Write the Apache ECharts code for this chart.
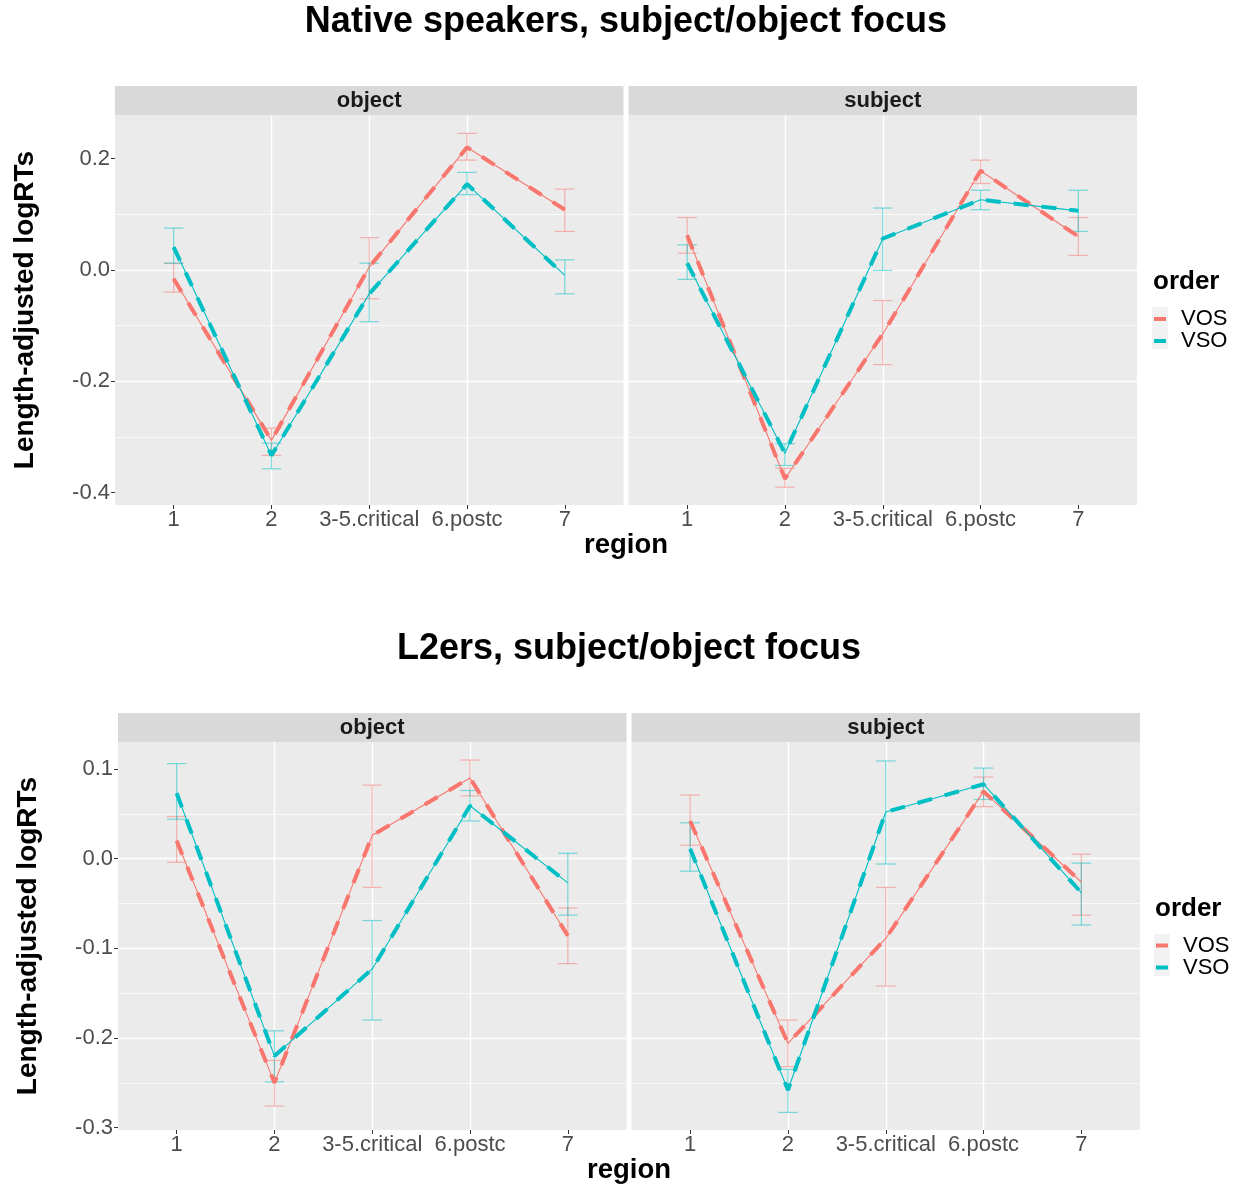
<!DOCTYPE html>
<html>
<head>
<meta charset="utf-8">
<script src="https://cdn.jsdelivr.net/npm/echarts@6/dist/echarts.min.js"></script>
<style>
  body { margin: 0; background: #ffffff; }
  #main { width: 1239px; height: 1185px; }
</style>
</head>
<body>
<div id="main"></div>
<script>
// region categories on the x axis
var regions = ['1', '2', '3-5.critical', '6.postc', '7'];
var regionTicks = [1, 2, 3, 4, 5];

// y tick labels
var nativeTicks = [-0.4, -0.2, 0.0, 0.2];
var l2Ticks = [-0.3, -0.2, -0.1, 0.0, 0.1];

// Native speakers, object focus
var nativeObjVOS = [-0.016, -0.306, 0.005, 0.220, 0.108];
var nativeObjVOSLow = [-0.040, -0.333, -0.052, 0.197, 0.069];
var nativeObjVOSHigh = [0.012, -0.284, 0.058, 0.245, 0.145];
var nativeObjVSO = [0.041, -0.333, -0.043, 0.154, -0.010];
var nativeObjVSOLow = [0.012, -0.357, -0.093, 0.135, -0.043];
var nativeObjVSOHigh = [0.075, -0.311, 0.012, 0.175, 0.018];

// Native speakers, subject focus
var nativeSubjVOS = [0.062, -0.375, -0.115, 0.178, 0.060];
var nativeSubjVOSLow = [0.030, -0.390, -0.170, 0.155, 0.026];
var nativeSubjVOSHigh = [0.094, -0.356, -0.055, 0.197, 0.094];
var nativeSubjVSO = [0.012, -0.329, 0.056, 0.126, 0.106];
var nativeSubjVSOLow = [-0.017, -0.351, -0.001, 0.108, 0.069];
var nativeSubjVSOHigh = [0.045, -0.312, 0.111, 0.143, 0.143];

// L2ers, object focus
var l2ObjVOS = [0.020, -0.250, 0.026, 0.090, -0.086];
var l2ObjVOSLow = [-0.004, -0.276, -0.032, 0.070, -0.117];
var l2ObjVOSHigh = [0.047, -0.225, 0.082, 0.110, -0.055];
var l2ObjVSO = [0.073, -0.220, -0.123, 0.059, -0.027];
var l2ObjVSOLow = [0.044, -0.249, -0.180, 0.042, -0.063];
var l2ObjVSOHigh = [0.106, -0.192, -0.069, 0.076, 0.006];

// L2ers, subject focus
var l2SubjVOS = [0.042, -0.206, -0.089, 0.075, -0.026];
var l2SubjVOSLow = [0.015, -0.232, -0.142, 0.058, -0.063];
var l2SubjVOSHigh = [0.071, -0.180, -0.032, 0.091, 0.005];
var l2SubjVSO = [0.011, -0.258, 0.052, 0.083, -0.038];
var l2SubjVSOLow = [-0.014, -0.283, -0.006, 0.066, -0.074];
var l2SubjVSOHigh = [0.040, -0.235, 0.109, 0.101, -0.005];

var FONT = '"Liberation Sans", Arial, sans-serif';
var COL = { VOS: '#F8766D', VSO: '#00BFC4' };
var COL_ERR = { VOS: 'rgba(248,118,109,0.5)', VSO: 'rgba(0,191,196,0.5)' };

var panels = [
  { grid: { left: 115, top: 115, width: 508.5, height: 390 }, yMin: -0.422, yMax: 0.278, step: 0.2, ticks: nativeTicks, showY: true,
    VOS: [nativeObjVOS, nativeObjVOSLow, nativeObjVOSHigh], VSO: [nativeObjVSO, nativeObjVSOLow, nativeObjVSOHigh] },
  { grid: { left: 628.5, top: 115, width: 508.5, height: 390 }, yMin: -0.422, yMax: 0.278, step: 0.2, ticks: nativeTicks, showY: false,
    VOS: [nativeSubjVOS, nativeSubjVOSLow, nativeSubjVOSHigh], VSO: [nativeSubjVSO, nativeSubjVSOLow, nativeSubjVSOHigh] },
  { grid: { left: 118, top: 742, width: 508.5, height: 388 }, yMin: -0.3026, yMax: 0.1301, step: 0.1, ticks: l2Ticks, showY: true,
    VOS: [l2ObjVOS, l2ObjVOSLow, l2ObjVOSHigh], VSO: [l2ObjVSO, l2ObjVSOLow, l2ObjVSOHigh] },
  { grid: { left: 631.5, top: 742, width: 508.5, height: 388 }, yMin: -0.3026, yMax: 0.1301, step: 0.1, ticks: l2Ticks, showY: false,
    VOS: [l2SubjVOS, l2SubjVOSLow, l2SubjVOSHigh], VSO: [l2SubjVSO, l2SubjVSOLow, l2SubjVSOHigh] }
];

function errorBar(params, api) {
  var x = api.value(0);
  var lo = api.coord([x, api.value(1)]);
  var hi = api.coord([x, api.value(2)]);
  var half = api.size([0.1, 0])[0];
  var st = { stroke: api.visual('color'), lineWidth: 1.2 };
  return {
    type: 'group',
    children: [
      { type: 'line', shape: { x1: lo[0], y1: lo[1], x2: hi[0], y2: hi[1] }, style: st },
      { type: 'line', shape: { x1: lo[0] - half, y1: lo[1], x2: lo[0] + half, y2: lo[1] }, style: st },
      { type: 'line', shape: { x1: hi[0] - half, y1: hi[1], x2: hi[0] + half, y2: hi[1] }, style: st }
    ]
  };
}

var grids = [], xAxes = [], yAxes = [], series = [];

panels.forEach(function (p, i) {
  grids.push(Object.assign({ show: true, backgroundColor: '#EBEBEB', borderWidth: 0 }, p.grid));
  xAxes.push({
    type: 'value', gridIndex: i, min: 0.4, max: 5.6, minInterval: 1, maxInterval: 1,
    axisLine: { show: false, onZero: false },
    axisTick: { show: true, length: 4, customValues: regionTicks, lineStyle: { color: '#333333', width: 1 } },
    axisLabel: {
      customValues: regionTicks, color: '#4D4D4D', fontSize: 22, fontFamily: FONT, margin: 4,
      formatter: function (v) { return regions[Math.round(v) - 1] || ''; }
    },
    splitLine: { show: true, showMinLine: false, showMaxLine: false, lineStyle: { color: '#FFFFFF', width: 1.4 } }
  });
  yAxes.push({
    type: 'value', gridIndex: i, min: p.yMin, max: p.yMax, minInterval: p.step, maxInterval: p.step,
    axisLine: { show: false, onZero: false },
    axisTick: { show: p.showY, length: 4, customValues: p.ticks, lineStyle: { color: '#333333', width: 1 } },
    axisLabel: {
      show: p.showY, customValues: p.ticks, color: '#4D4D4D', fontSize: 22, fontFamily: FONT, margin: 5,
      formatter: function (v) { return v.toFixed(1); }
    },
    splitLine: { show: true, showMinLine: false, showMaxLine: false, lineStyle: { color: '#FFFFFF', width: 1.4 } },
    minorTick: { show: false, splitNumber: 2 },
    minorSplitLine: { show: true, lineStyle: { color: '#FFFFFF', width: 0.7 } },
    name: p.showY ? 'Length-adjusted logRTs' : '',
    nameLocation: 'middle', nameRotate: 90, nameGap: 76,
    nameTextStyle: { fontSize: 28, fontWeight: 'bold', color: '#000000', fontFamily: FONT }
  });

  ['VOS', 'VSO'].forEach(function (g) {
    var arr = p[g];
    series.push({
      name: g, type: 'custom', xAxisIndex: i, yAxisIndex: i, renderItem: errorBar,
      itemStyle: { color: COL_ERR[g] }, silent: true, z: 1,
      encode: { x: 0, y: [1, 2] },
      data: arr[0].map(function (m, k) { return [k + 1, arr[1][k], arr[2][k]]; })
    });
  });
  ['VOS', 'VSO'].forEach(function (g, gi) {
    var pts = p[g][0].map(function (m, k) { return [k + 1, m]; });
    series.push({
      name: g, type: 'line', xAxisIndex: i, yAxisIndex: i, data: pts, showSymbol: false, symbol: 'none',
      silent: true, z: 2 + gi * 2, color: COL[g],
      lineStyle: { color: COL[g], width: 1.1 }
    });
    series.push({
      name: g, type: 'line', xAxisIndex: i, yAxisIndex: i, data: pts, showSymbol: false, symbol: 'none',
      silent: true, z: 3 + gi * 2, color: COL[g],
      lineStyle: { color: COL[g], width: 4, type: [15, 13], cap: 'butt' }
    });
  });
});

function legendAt(left, top) {
  return {
    left: left, top: top, orient: 'vertical', padding: 0, itemGap: 0,
    itemWidth: 12, itemHeight: 4, icon: 'rect', selectedMode: false,
    data: [
      { name: 'VOS', itemStyle: { color: COL.VOS, borderWidth: 0 } },
      { name: 'VSO', itemStyle: { color: COL.VSO, borderWidth: 0 } }
    ],
    textStyle: { fontSize: 22, color: '#000000', fontFamily: FONT, lineHeight: 21, padding: [0, 0, 0, 10] }
  };
}

function txt(x, y, s, size) {
  return {
    type: 'text', x: x, y: y, silent: true, z: 10,
    style: { text: s, fontSize: size, fontWeight: 'bold', fontFamily: FONT,
      fill: '#000000', align: 'center', verticalAlign: 'middle' }
  };
}
function strip(x, y, w, h, s) {
  return [
    { type: 'rect', shape: { x: x, y: y, width: w, height: h }, style: { fill: '#D9D9D9' }, silent: true },
    { type: 'text', x: x + w / 2, y: y + h / 2, silent: true,
      style: { text: s, fontSize: 22, fontWeight: 'bold', fontFamily: FONT, fill: '#1A1A1A', align: 'center', verticalAlign: 'middle' } }
  ];
}

var graphics = [].concat(
  [txt(626, 22, 'Native speakers, subject/object focus', 36),
   txt(629, 649, 'L2ers, subject/object focus', 36),
   txt(626, 545, 'region', 27.5),
   txt(629, 1170, 'region', 27.5)],
  strip(115, 86, 508.5, 29, 'object'),
  strip(628.5, 86, 508.5, 29, 'subject'),
  strip(118, 713, 508.5, 29, 'object'),
  strip(631.5, 713, 508.5, 29, 'subject'),
  [{ type: 'text', x: 1153, y: 282, silent: true,
     style: { text: 'order', fontSize: 26, fontWeight: 'bold', fontFamily: FONT, fill: '#000000', align: 'left', verticalAlign: 'middle' } },
   { type: 'text', x: 1155, y: 909, silent: true,
     style: { text: 'order', fontSize: 26, fontWeight: 'bold', fontFamily: FONT, fill: '#000000', align: 'left', verticalAlign: 'middle' } },
   { type: 'rect', shape: { x: 1152, y: 307, width: 16, height: 42 }, style: { fill: '#F2F2F2' }, silent: true, z: -1 },
   { type: 'rect', shape: { x: 1154, y: 934, width: 16, height: 42 }, style: { fill: '#F2F2F2' }, silent: true, z: -1 }]
);

var chart = echarts.init(document.getElementById('main'));
chart.setOption({
  animation: false,
  backgroundColor: '#FFFFFF',
  grid: grids,
  xAxis: xAxes,
  yAxis: yAxes,
  legend: [legendAt(1154, 308), legendAt(1156, 934.5)],
  graphic: graphics,
  series: series
});
</script>
</body>
</html>
